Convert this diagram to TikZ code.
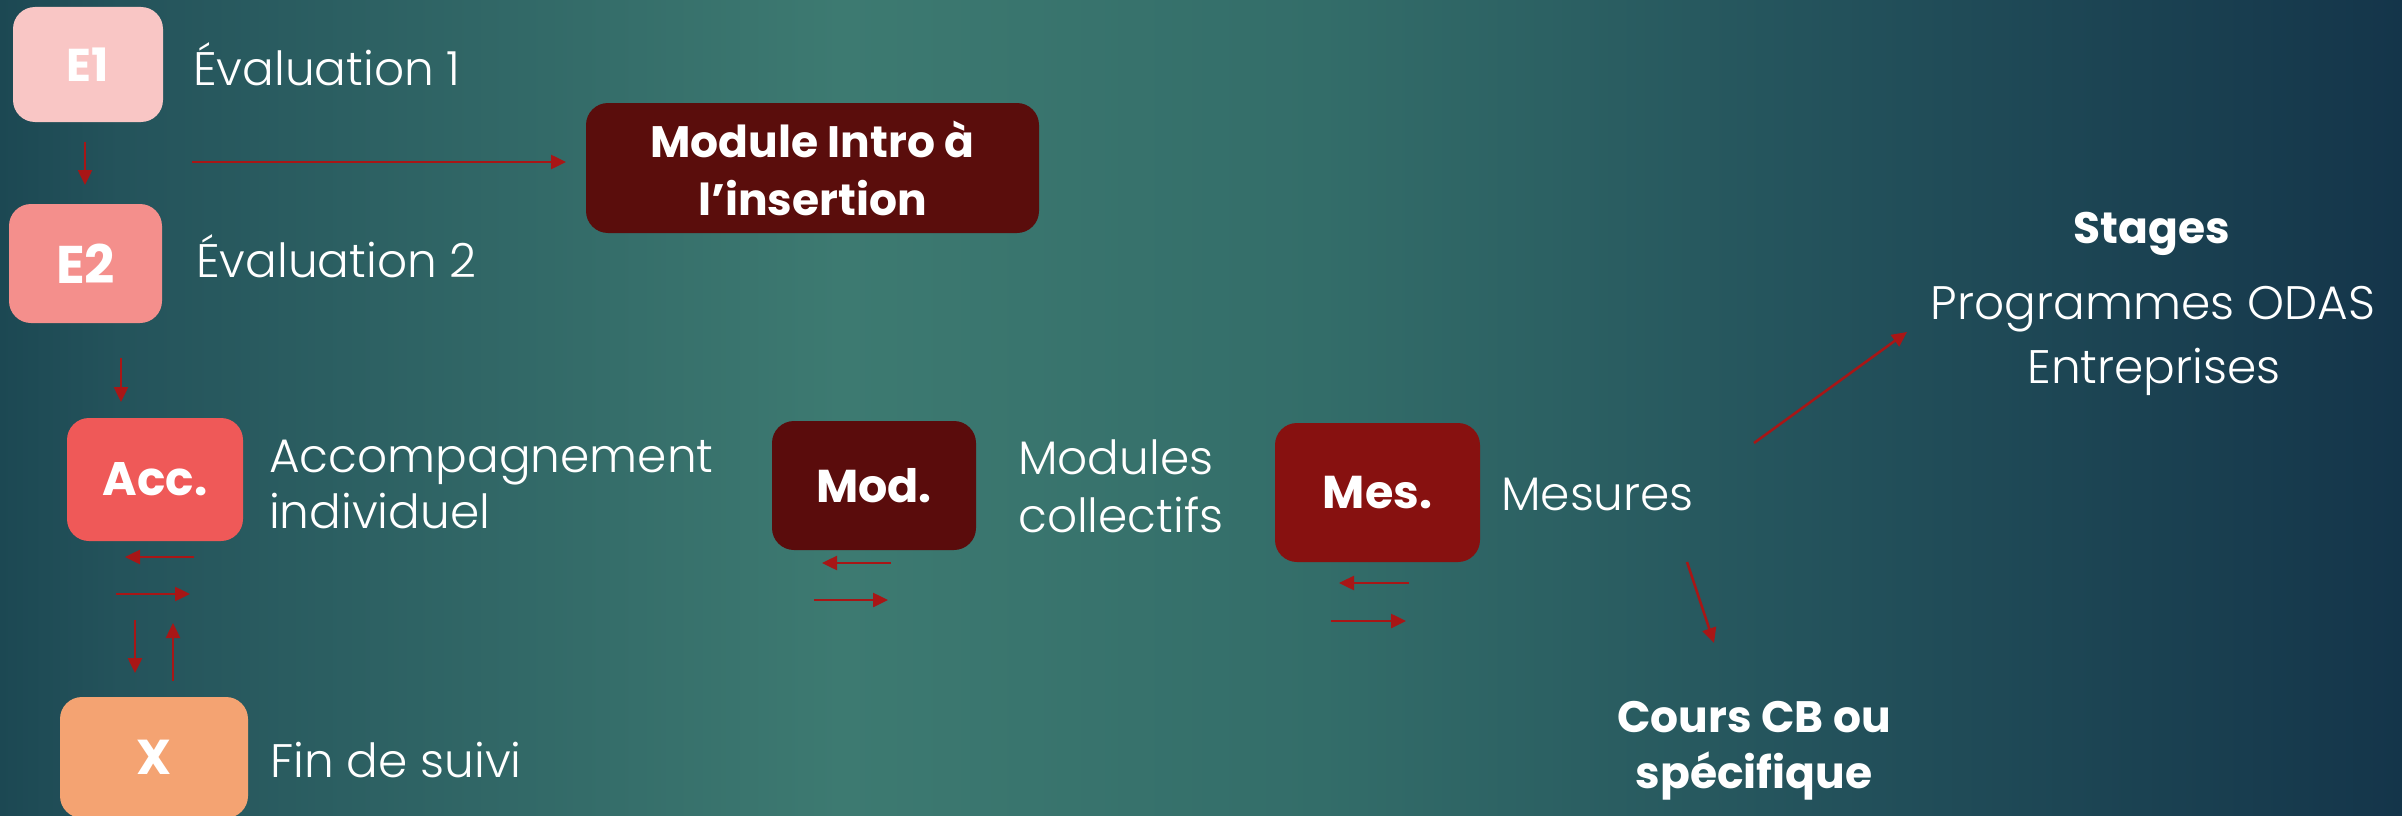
\documentclass[tikz,border=0pt]{standalone}
\usepackage{fontspec}
\setmainfont{Poppins}[UprightFont={* Light}, BoldFont={* Bold}]
\usetikzlibrary{arrows.meta}
\definecolor{bgA}{HTML}{1C4853}
\definecolor{bgB}{HTML}{24535B}
\definecolor{bgC}{HTML}{3D7A71}
\definecolor{bgD}{HTML}{336D69}
\definecolor{bgE}{HTML}{24535C}
\definecolor{bgF}{HTML}{14354A}
\definecolor{cE1}{HTML}{F9C6C5}
\definecolor{cE2}{HTML}{F48F8C}
\definecolor{cAcc}{HTML}{EF5958}
\definecolor{cX}{HTML}{F4A372}
\definecolor{cIntro}{HTML}{5A0D0C}
\definecolor{cMod}{HTML}{5A0C0C}
\definecolor{cMes}{HTML}{871110}
\definecolor{arrcol}{HTML}{A81616}
\pgfdeclarehorizontalshading{bgshade}{100bp}{color(0bp)=(bgA); color(25bp)=(bgA); color(27.5bp)=(bgB); color(42.5bp)=(bgC); color(52.5bp)=(bgD); color(62.5bp)=(bgE); color(75bp)=(bgF); color(100bp)=(bgF)}
\begin{document}
\begin{tikzpicture}[x=1pt,y=-1pt,
  box/.style={rounded corners=22pt, inner sep=0pt, text=white, align=center,
    font=\bfseries\fontsize{44}{58}\selectfont},
  txt/.style={text=white, inner sep=0pt, font=\fontsize{47}{56}\selectfont},
  btxt/.style={text=white, inner sep=0pt, font=\bfseries\fontsize{44}{56}\selectfont},
  arr/.style={draw=arrcol, line width=2.5pt, -{Triangle[length=15pt,width=14pt]}}]
\useasboundingbox (0,0) rectangle (2402,816);
\shade[shading=bgshade] (0,0) rectangle (2402,816);

% boxes
\node[box, fill=cE1, minimum width=150pt, minimum height=115pt,
  font=\bfseries\fontsize{46}{50}\selectfont] (e1) at (88,64.5) {E1};
\node[box, fill=cE2, minimum width=153pt, minimum height=119pt,
  font=\bfseries\fontsize{53}{60}\selectfont] (e2) at (85.5,263.5) {E2};
\node[box, fill=cAcc, minimum width=176pt, minimum height=123pt,
  font=\bfseries\fontsize{47}{56}\selectfont] (acc) at (155,479.5) {Acc.};
\node[box, fill=cX, minimum width=188pt, minimum height=121pt,
  font=\bfseries\fontsize{49}{56}\selectfont] (x) at (154,757.5) {X};
\node[box, fill=cIntro, minimum width=453pt, minimum height=130pt] (intro) at (812.5,168)
  {Module Intro à\\l’insertion};
\node[box, fill=cMod, minimum width=204pt, minimum height=129pt,
  font=\bfseries\fontsize{46}{56}\selectfont] (mod) at (874,485.5) {Mod.};
\node[box, fill=cMes, minimum width=205pt, minimum height=139pt,
  font=\bfseries\fontsize{46}{56}\selectfont] (mes) at (1377.5,492.5) {Mes.};

% texts
\node[txt, anchor=base west] (te1) at (193,85) {Évaluation 1};
\node[txt, anchor=base west] (te2) at (196,277) {Évaluation 2};
\node[txt, anchor=base west] (tacc1) at (269,472) {Accompagnement};
\node[txt, anchor=base west] (tacc2) at (269,528) {individuel};
\node[txt, anchor=base west] (tx) at (270,777) {Fin de suivi};
\node[txt, anchor=base west] (tmod1) at (1018,474) {Modules};
\node[txt, anchor=base west] (tmod2) at (1018,532) {collectifs};
\node[txt, anchor=base west] (tmes) at (1501,510) {Mesures};
\node[btxt, anchor=base] (tst) at (2152,243) {Stages};
\node[txt, anchor=base] (tst1) at (2153,319) {Programmes ODAS};
\node[txt, anchor=base] (tst2) at (2154,383) {Entreprises};
\node[btxt, anchor=base] (tc1) at (1754,732) {Cours CB ou};
\node[btxt, anchor=base] (tc2) at (1754,788) {spécifique};

% arrow end points
\coordinate (a1s) at (85,142);   \coordinate (a1e) at (85,185);
\coordinate (a2s) at (192,162);  \coordinate (a2e) at (566,162);
\coordinate (a3s) at (121,358);  \coordinate (a3e) at (121,402);
\coordinate (a4s) at (194,557);  \coordinate (a4e) at (125,557);
\coordinate (a5s) at (116,594);  \coordinate (a5e) at (190,594);
\coordinate (a6s) at (135,620);  \coordinate (a6e) at (135,673);
\coordinate (a7s) at (173,681);  \coordinate (a7e) at (173,623);
\coordinate (a8s) at (891,563);  \coordinate (a8e) at (822,563);
\coordinate (a9s) at (814,600);  \coordinate (a9e) at (888,600);
\coordinate (a10s) at (1409,583); \coordinate (a10e) at (1339,583);
\coordinate (a11s) at (1331,621); \coordinate (a11e) at (1406,621);
\coordinate (a12s) at (1754,443); \coordinate (a12e) at (1907,332);
\coordinate (a13s) at (1687,562); \coordinate (a13e) at (1714,643);

\foreach \i in {1,...,13} \draw[arr] (a\i s) -- (a\i e);
\end{tikzpicture}
\end{document}
